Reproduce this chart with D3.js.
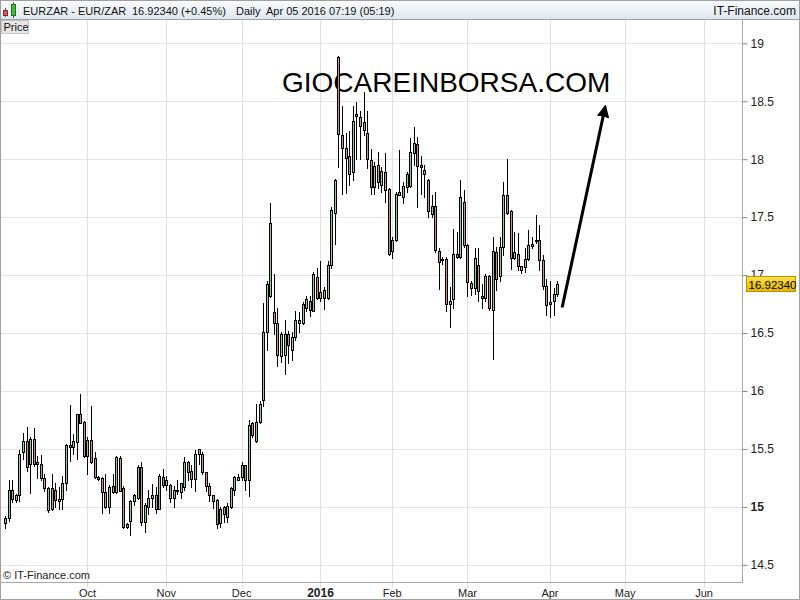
<!DOCTYPE html>
<html><head><meta charset="utf-8">
<script src="https://cdn.jsdelivr.net/npm/d3@7"></script>
<style>body{margin:0;background:#fff}svg{display:block;font-family:"Liberation Sans",Arial,sans-serif}</style>
</head><body><svg id="c" width="800" height="600"></svg>
<script>
// ---- data ----
const symbolText = "EURZAR - EUR/ZAR";
const lastPrice = 16.92340;
const changeText = "(+0.45%)";
const headerDate = "Daily  Apr 05 2016 07:19 (05:19)";
const brandText = "IT-Finance.com";
const copyrightText = "© IT-Finance.com";
const watermark = "GIOCAREINBORSA.COM";
const firstDate = "2015-08-31";
const firstLabelledMonth = "2015-10-01";
const lastAxisDate = "2016-06-30";
const holidays = ["2015-12-25", "2016-01-01"];
const yTicks = [14.5, 15, 15.5, 16, 16.5, 17, 17.5, 18, 18.5, 19];
const monthLabels = ["Oct", "Nov", "Dec", "2016", "Feb", "Mar", "Apr", "May", "Jun"];
const arrowFrom = [155.4, 16.72];
const arrowTo = [167.4, 18.45];

const open = [14.86,14.90,15.15,15.06,15.10,15.47,15.57,15.37,15.59,15.39,15.37,15.25,14.97,15.16,15.15,15.05,15.07,15.21,15.52,15.52,
15.56,15.80,15.73,15.44,15.58,15.42,15.26,15.25,15.13,15.00,15.18,15.13,15.42,15.16,14.85,14.88,15.05,15.08,15.34,14.87,
15.00,15.08,15.10,14.98,15.26,15.19,15.19,15.08,15.14,15.13,15.17,15.39,15.31,15.24,15.46,15.46,15.30,15.18,15.10,15.06,
14.86,15.00,14.91,15.00,15.15,15.23,15.26,15.36,15.23,15.72,15.57,15.73,15.92,16.51,16.82,16.68,16.59,16.30,16.31,16.49,
16.35,16.47,16.59,16.59,16.72,16.78,16.69,16.98,16.80,16.87,16.80,17.09,17.54,18.88,18.21,18.10,18.03,17.89,18.39,18.36,
18.32,18.23,17.99,17.76,17.95,17.78,17.89,17.74,17.21,17.30,17.69,17.67,17.76,17.77,18.05,18.13,17.95,17.91,17.82,17.53,
17.60,17.21,17.14,17.14,16.75,16.79,17.18,17.16,17.63,17.26,16.93,16.89,17.09,16.82,16.80,16.99,16.70,17.20,16.99,17.24,
17.69,17.55,17.15,17.18,17.08,17.07,17.14,17.25,17.29,17.30,17.13,16.91,16.75,16.78,16.84];
const high = [14.92,15.23,15.23,15.11,15.49,15.64,15.69,15.60,15.68,15.44,15.45,15.28,15.17,15.28,15.21,15.17,15.27,15.54,15.88,15.63,
15.80,15.97,15.74,15.60,15.87,15.47,15.27,15.26,15.28,15.19,15.28,15.44,15.44,15.18,14.86,15.06,15.11,15.36,15.39,15.03,
15.15,15.20,15.17,15.28,15.33,15.27,15.20,15.18,15.23,15.21,15.43,15.40,15.36,15.49,15.50,15.47,15.30,15.21,15.10,15.07,
15.00,15.01,15.03,15.17,15.27,15.28,15.39,15.36,15.75,15.73,15.89,15.91,16.76,16.95,17.62,17.01,16.72,16.51,16.61,16.52,
16.51,16.69,16.68,16.77,16.82,16.82,17.03,17.06,17.12,16.90,17.12,17.59,17.83,18.89,18.46,18.23,18.24,18.46,18.49,18.42,
18.58,18.42,18.09,17.98,18.06,17.93,18.05,17.75,17.33,17.72,18.08,17.80,17.89,18.18,18.28,18.19,18.03,17.95,17.83,17.69,
17.72,17.23,17.16,17.16,16.90,17.40,17.37,17.82,17.73,17.27,16.95,17.23,17.23,16.92,17.01,17.00,17.33,17.24,17.33,17.80,
18.00,17.56,17.37,17.36,17.08,17.23,17.39,17.33,17.52,17.43,17.17,16.97,16.95,16.89,16.95];
const low = [14.82,14.88,15.04,15.04,15.05,15.41,15.31,15.12,15.35,15.25,15.23,15.14,14.96,14.97,15.00,14.98,14.98,15.15,15.40,15.46,
15.41,15.72,15.43,15.28,15.38,15.25,15.23,14.95,14.99,14.95,15.12,15.12,15.14,14.82,14.82,14.76,15.02,15.07,14.84,14.78,
14.94,15.00,14.95,14.98,15.17,15.15,15.04,15.00,15.11,15.08,15.15,15.23,15.17,15.14,15.37,15.28,15.14,15.05,14.99,14.82,
14.83,14.87,14.87,14.99,15.10,15.23,15.23,15.15,15.09,15.60,15.56,15.72,15.87,16.35,16.81,16.49,16.22,16.25,16.15,16.24,
16.27,16.44,16.51,16.58,16.69,16.65,16.69,16.79,16.78,16.71,16.79,17.06,17.27,17.93,17.70,17.71,17.78,17.82,18.00,18.00,
18.21,17.92,17.70,17.70,17.75,17.72,17.63,17.17,17.15,17.29,17.69,17.62,17.72,17.76,17.95,17.59,17.70,17.67,17.50,17.50,
17.20,16.88,17.10,16.69,16.55,16.72,17.15,17.15,17.24,16.82,16.83,16.84,16.78,16.72,16.78,16.70,16.28,16.87,16.95,17.17,
17.53,17.05,17.14,17.04,17.02,17.03,17.13,17.23,17.28,17.04,16.88,16.66,16.64,16.66,16.82];
const close = [14.90,15.15,15.07,15.10,15.46,15.57,15.34,15.59,15.37,15.37,15.25,15.16,15.16,14.98,15.06,15.07,15.21,15.53,15.53,15.57,
15.80,15.72,15.44,15.58,15.39,15.26,15.24,15.13,15.00,15.17,15.13,15.43,15.14,14.83,14.83,15.05,15.10,15.34,14.87,15.02,
15.08,15.10,14.98,15.27,15.19,15.23,15.08,15.15,15.15,15.21,15.39,15.30,15.24,15.46,15.50,15.30,15.18,15.10,15.05,14.85,
14.98,14.94,15.01,15.16,15.26,15.26,15.36,15.23,15.71,15.62,15.73,15.89,16.51,16.92,17.45,16.59,16.31,16.49,16.49,16.40,
16.47,16.61,16.61,16.75,16.79,16.70,17.01,16.80,16.85,16.80,17.09,17.56,17.82,18.22,18.10,18.01,17.87,18.33,18.37,18.29,
18.25,18.00,17.76,17.94,17.80,17.90,17.73,17.18,17.30,17.70,17.72,17.77,17.87,18.06,18.14,17.94,17.93,17.87,17.55,17.60,
17.22,17.11,17.13,16.75,16.78,17.18,17.16,17.67,17.26,16.94,16.89,17.15,16.86,16.80,16.99,16.72,17.21,16.97,17.24,17.69,
17.54,17.15,17.20,17.08,17.04,17.14,17.26,17.27,17.30,17.13,16.91,16.74,16.77,16.84,16.9234];

// ---- trading-day calendar (weekdays, minus holidays) ----
const parse = d3.utcParse("%Y-%m-%d"), fmt = d3.utcFormat("%Y-%m-%d");
const days = d3.utcDays(parse(firstDate), d3.utcDay.offset(parse(lastAxisDate), 1))
  .filter(d => d.getUTCDay() !== 0 && d.getUTCDay() !== 6 && !holidays.includes(fmt(d)));
const startLabel = parse(firstLabelledMonth);
const monthStarts = [];
days.forEach((d, i) => {
  if (i > 0 && d >= startLabel && d.getUTCMonth() !== days[i - 1].getUTCMonth()) monthStarts.push(i);
});
const monthTicks = monthStarts.slice(0, monthLabels.length).map((idx, k) => ({ idx, label: monthLabels[k] }));

const candles = open.map((o, i) => ({ i, o, h: high[i], l: low[i], c: close[i] }));

// ---- layout ----
const W = 800, H = 600;
const plot = { left: 1, right: 742, top: 20, bottom: 582 };
const x = d3.scaleLinear().domain([0, 195]).range([5, 704.1]);
const y = d3.scaleLinear().domain([14.5, 19]).range([564.85, 43.3]);

const svg = d3.select("#c");
const defs = svg.append("defs");
const hg = defs.append("linearGradient").attr("id", "hg").attr("x1", 0).attr("y1", 0).attr("x2", 0).attr("y2", 1);
hg.append("stop").attr("offset", "0%").attr("stop-color", "#fbfcfd");
hg.append("stop").attr("offset", "100%").attr("stop-color", "#dde6ee");
const pg = defs.append("linearGradient").attr("id", "pg").attr("x1", 0).attr("y1", 0).attr("x2", 0).attr("y2", 1);
pg.append("stop").attr("offset", "0%").attr("stop-color", "#ffe14a");
pg.append("stop").attr("offset", "100%").attr("stop-color", "#e6b400");
const ah = defs.append("marker").attr("id", "ah").attr("viewBox", "0 0 10 10").attr("refX", 8).attr("refY", 5)
  .attr("markerWidth", 4.2).attr("markerHeight", 4.2).attr("orient", "auto").attr("markerUnits", "strokeWidth");
ah.append("path").attr("d", "M0,0 L10,5 L0,10 z").attr("fill", "#000");

svg.append("rect").attr("width", W).attr("height", H).attr("fill", "#fff");

// grid
const grid = svg.append("g").attr("shape-rendering", "crispEdges");
grid.selectAll(".hg").data(yTicks).join("line")
  .attr("x1", plot.left).attr("x2", plot.right)
  .attr("y1", d => Math.round(y(d)) + 0.5).attr("y2", d => Math.round(y(d)) + 0.5)
  .attr("stroke", "#e4e4e4");
grid.selectAll(".vg").data(monthTicks).join("line")
  .attr("x1", d => Math.round(x(d.idx)) + 0.5).attr("x2", d => Math.round(x(d.idx)) + 0.5)
  .attr("y1", plot.top).attr("y2", plot.bottom + 6)
  .attr("stroke", "#e0e0e0");

// watermark
svg.append("text").attr("x", 282).attr("y", 92).attr("font-size", 28).attr("fill", "#000")
  .text(watermark);

// candles
const cg = svg.append("g").attr("shape-rendering", "crispEdges");
const cx = d => Math.round(x(d.i));
cg.selectAll(".w").data(candles).join("line")
  .attr("x1", d => cx(d) + 0.5).attr("x2", d => cx(d) + 0.5)
  .attr("y1", d => Math.round(y(d.h))).attr("y2", d => Math.round(y(d.l)) + 1)
  .attr("stroke", "#000");
cg.selectAll(".b").data(candles).join("rect")
  .attr("x", d => cx(d) - 0.5).attr("width", 2)
  .attr("y", d => Math.round(y(Math.max(d.o, d.c))) + 0.5)
  .attr("height", d => Math.max(1, Math.round(y(Math.min(d.o, d.c))) - Math.round(y(Math.max(d.o, d.c)))))
  .attr("fill", d => d.c >= d.o ? "#8fcc8f" : "#c99292")
  .attr("stroke", "#000").attr("stroke-width", 1);

// arrow
svg.append("line")
  .attr("x1", x(arrowFrom[0])).attr("y1", y(arrowFrom[1]))
  .attr("x2", x(arrowTo[0])).attr("y2", y(arrowTo[1]))
  .attr("stroke", "#000").attr("stroke-width", 3).attr("marker-end", "url(#ah)");

// axes frame
const fr = svg.append("g").attr("shape-rendering", "crispEdges");
fr.append("line").attr("x1", plot.right + 0.5).attr("x2", plot.right + 0.5).attr("y1", plot.top).attr("y2", plot.bottom + 0.5).attr("stroke", "#a8a8a8");
fr.append("line").attr("x1", plot.left).attr("x2", plot.right + 1).attr("y1", plot.bottom + 0.5).attr("y2", plot.bottom + 0.5).attr("stroke", "#a8a8a8");

// y axis via d3.axisRight
const yAxis = d3.axisRight(y).tickValues(yTicks).tickSize(5).tickPadding(3).tickFormat(d3.format("~g"));
const ya = svg.append("g").attr("transform", `translate(${plot.right + 0.5},0)`).call(yAxis);
ya.select(".domain").remove();
ya.selectAll(".tick line").attr("stroke", "#888");
ya.selectAll(".tick text").attr("fill", "#222").attr("font-size", 12)
  .attr("font-family", '"Liberation Sans",Arial,sans-serif')
  .attr("font-weight", d => d === 15 ? "bold" : "normal");

// x axis labels
const xa = svg.append("g");
xa.selectAll("text").data(monthTicks).join("text")
  .attr("x", d => x(d.idx)).attr("y", 597).attr("text-anchor", "middle")
  .attr("font-size", d => d.label === "2016" ? 12 : 11)
  .attr("font-weight", d => d.label === "2016" ? "bold" : "normal")
  .attr("fill", "#222").text(d => d.label);

// current price box
const py = y(lastPrice);
svg.append("rect").attr("x", 746.5).attr("y", Math.round(py) - 7.5).attr("width", 49).attr("height", 15)
  .attr("fill", "url(#pg)").attr("stroke", "#b89000").attr("shape-rendering", "crispEdges");
svg.append("text").attr("x", 748.5).attr("y", Math.round(py) + 4.5).attr("font-size", 11.5).attr("fill", "#000")
  .text(d3.format(".5f")(lastPrice));

// copyright
svg.append("text").attr("x", 3).attr("y", 579).attr("font-size", 11).attr("fill", "#222").text(copyrightText);

// header
svg.append("rect").attr("x", 0).attr("y", 0).attr("width", W).attr("height", 20).attr("fill", "url(#hg)");
svg.append("line").attr("x1", 0).attr("x2", W).attr("y1", 19.5).attr("y2", 19.5).attr("stroke", "#a0a0a0").attr("shape-rendering", "crispEdges");
// tiny candle icon
const ic = svg.append("g").attr("shape-rendering", "crispEdges");
ic.append("line").attr("x1", 5.5).attr("x2", 5.5).attr("y1", 8).attr("y2", 17).attr("stroke", "#555");
ic.append("rect").attr("x", 3.5).attr("y", 10.5).attr("width", 4).attr("height", 5).attr("fill", "#e05050").attr("stroke", "#803030");
ic.append("line").attr("x1", 13.5).attr("x2", 13.5).attr("y1", 2).attr("y2", 18).attr("stroke", "#555");
ic.append("rect").attr("x", 11.5).attr("y", 4.5).attr("width", 4).attr("height", 11).attr("fill", "#40c040").attr("stroke", "#207020");
const ht = svg.append("g").attr("font-size", 11).attr("fill", "#111");
ht.append("text").attr("x", 23).attr("y", 15).text(symbolText);
ht.append("text").attr("x", 132).attr("y", 15).text(d3.format(".5f")(lastPrice) + " " + changeText);
ht.append("text").attr("x", 236).attr("y", 15).attr("xml:space", "preserve").text(headerDate);
svg.append("text").attr("x", 796).attr("y", 15).attr("text-anchor", "end").attr("font-size", 12).attr("fill", "#111").text(brandText);

// "Price" tab
svg.append("rect").attr("x", 1.5).attr("y", 20.5).attr("width", 27).attr("height", 13).attr("fill", "#e6e6e6").attr("stroke", "#c4c4c4").attr("shape-rendering", "crispEdges");
svg.append("text").attr("x", 3.5).attr("y", 31).attr("font-size", 11).attr("fill", "#111").text("Price");

// outer border
svg.append("rect").attr("x", 0.5).attr("y", 0.5).attr("width", W - 1).attr("height", H - 1)
  .attr("fill", "none").attr("stroke", "#a0a0a0").attr("shape-rendering", "crispEdges");
</script></body></html>
